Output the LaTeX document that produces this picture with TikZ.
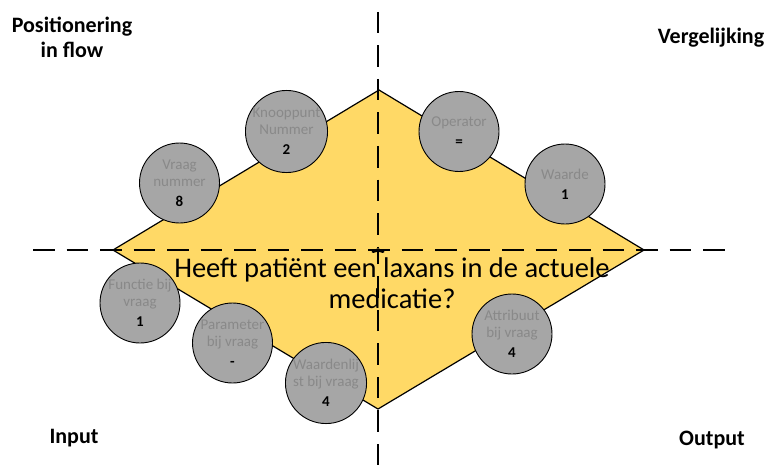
\documentclass[tikz,border=0pt]{standalone}
\usepackage{fontspec}
\setmainfont{Carlito}
\usetikzlibrary{arrows.meta}
\definecolor{geel}{RGB}{255,217,102}
\definecolor{grijs}{RGB}{166,166,166}
\definecolor{tekstgrijs}{RGB}{137,137,137}
\newcommand{\bolnr}[1]{{\color{black}\bfseries #1}}

\begin{document}
\begin{tikzpicture}[x=1pt, y=-1pt,
	bol/.style={circle, draw=black, line width=0.9pt, fill=grijs, minimum size=80pt, inner sep=0pt, align=center, text=tekstgrijs, font=\fontsize{15}{17}\selectfont},
	hoek/.style={font=\fontsize{22}{25}\selectfont\bfseries, align=center},
	aslijn/.style={line width=2.6pt, dash pattern=on 21.5pt off 12pt}]
	\useasboundingbox (0,0) rectangle (767,465);

	\coordinate (T) at (379,90);
	\coordinate (R) at (644,250);
	\coordinate (B) at (378,409);
	\coordinate (L) at (113,250);
	\filldraw[fill=geel, line width=1.2pt] (L) -- (T) -- (R) -- (B) -- cycle;

	\node[bol] (vraagnr) at (179.5,183) {Vraag\\nummer\\[3pt]\bolnr{8}};
	\node[bol] (knooppunt) at (286.5,131.5) {Knooppunt\\Nummer\\[3pt]\bolnr{2}};
	\node[bol] (operator) at (459,131.5) {Operator\\[3pt]\bolnr{=}};
	\node[bol] (waarde) at (565,184) {Waarde\\[3pt]\bolnr{1}};
	\node[bol] (functie) at (140,303) {Functie bij\\vraag\\[3pt]\bolnr{1}};
	\node[bol] (parameter) at (232.5,343) {Parameter\\bij vraag\\[3pt]\bolnr{-}};
	\node[bol] (waardenlijst) at (326,383) {Waardenlij\\st bij vraag\\[3pt]\bolnr{4}};
	\node[bol] (attribuut) at (512,334) {Attribuut\\bij vraag\\[3pt]\bolnr{4}};

	\node[font=\fontsize{28.5}{31}\selectfont, align=center] (vraag) at (392,283) {Heeft patiënt een laxans in de actuele\\medicatie?};

	\node[hoek] (positionering) at (72,37) {Positionering\\in flow};
	\node[hoek] (vergelijking) at (711,38) {Vergelijking};
	\node[hoek] (input) at (74,438) {Input};
	\node[hoek] (output) at (712,440) {Output};

	\coordinate (links) at (33,250);
	\coordinate (rechts) at (725,250);
	\coordinate (boven) at (378,12);
	\coordinate (midden) at (378,248);
	\coordinate (onder) at (378,465);
	\draw[aslijn] (links) -- (rechts);
	\draw[aslijn] (boven) -- (midden);
	\draw[aslijn, -{To[length=5pt, width=13pt]}] (onder) -- (midden);
\end{tikzpicture}
\end{document}
